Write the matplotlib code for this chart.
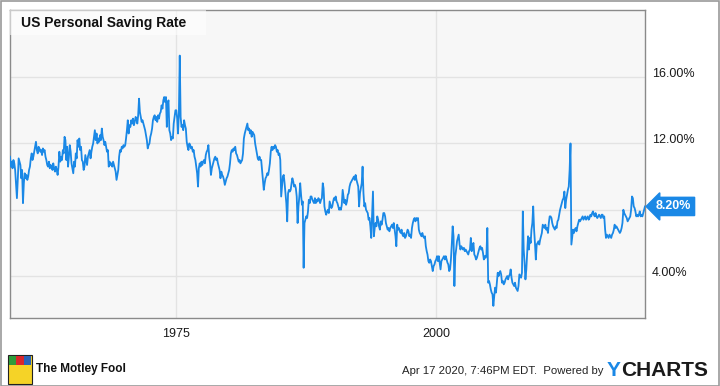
import numpy as np
import pandas as pd
import matplotlib
matplotlib.use("Agg")
import matplotlib.pyplot as plt
import matplotlib.patches as mpatches
import matplotlib.transforms as mtransforms

plt.rcParams['font.family'] = ['Liberation Sans', 'DejaVu Sans']

# Monthly US personal saving rate (%), Jan 1959 - Feb 2020
rate_by_year = {
    1959: [11.2, 10.6, 10.9, 10.5, 11.0, 10.8, 10.4, 9.6, 8.7, 9.8, 11.1, 10.9],
    1960: [10.7, 9.9, 10.4, 8.4, 9.6, 10.2, 9.9, 10.1, 9.8, 10.0, 10.4, 10.6],
    1961: [11.1, 11.4, 11.0, 11.2, 11.5, 11.8, 12.1, 11.6, 11.4, 11.8, 11.7, 11.5],
    1962: [11.6, 11.3, 11.7, 11.5, 11.6, 11.2, 11.0, 10.7, 10.6, 10.9, 10.5, 10.7],
    1963: [10.6, 10.4, 10.8, 10.5, 10.3, 10.6, 10.4, 10.1, 10.6, 11.5, 10.9, 11.2],
    1964: [11.0, 11.6, 11.4, 12.4, 12.2, 11.0, 11.8, 10.6, 11.2, 11.9, 11.5, 10.8],
    1965: [10.5, 10.2, 10.9, 10.6, 11.4, 11.1, 12.2, 11.8, 12.3, 11.6, 11.8, 11.0],
    1966: [10.9, 10.4, 10.6, 11.3, 11.0, 10.7, 11.2, 11.4, 11.6, 11.1, 11.5, 11.8],
    1967: [12.0, 12.4, 12.8, 12.2, 12.6, 12.0, 12.3, 12.1, 12.5, 12.2, 12.9, 12.4],
    1968: [12.2, 11.9, 12.1, 11.8, 11.5, 11.6, 10.6, 10.9, 10.7, 10.8, 10.6, 10.9],
    1969: [10.7, 10.5, 10.3, 9.8, 10.1, 10.4, 11.2, 11.6, 11.5, 11.8, 11.7, 11.9],
    1970: [11.8, 11.9, 12.3, 12.8, 13.4, 12.6, 13.1, 13.0, 13.4, 13.2, 13.5, 13.1],
    1971: [13.3, 13.6, 13.5, 13.2, 13.7, 14.7, 13.9, 13.6, 13.3, 13.4, 13.2, 13.0],
    1972: [12.8, 12.5, 12.2, 11.7, 11.9, 12.0, 12.4, 12.6, 12.9, 13.4, 13.6, 13.7],
    1973: [13.4, 13.6, 13.3, 13.7, 13.5, 13.8, 13.9, 14.3, 14.1, 14.6, 14.8, 14.5],
    1974: [14.8, 13.0, 14.4, 14.6, 12.8, 12.6, 12.2, 12.4, 12.3, 13.2, 13.6, 14.0],
    1975: [14.0, 13.5, 12.6, 13.8, 17.3, 13.6, 13.0, 13.1, 12.8, 13.4, 13.1, 12.9],
    1976: [12.1, 11.8, 11.6, 12.0, 11.9, 11.7, 11.8, 11.5, 11.6, 11.2, 11.0, 10.6],
    1977: [10.2, 9.4, 10.5, 10.8, 10.6, 10.9, 10.7, 10.9, 11.0, 10.8, 11.3, 11.5],
    1978: [11.6, 11.9, 11.2, 10.8, 10.1, 10.5, 10.7, 10.9, 11.1, 11.2, 11.0, 11.1],
    1979: [10.8, 10.6, 10.4, 9.9, 10.3, 10.1, 10.0, 9.8, 9.5, 9.7, 9.9, 10.0],
    1980: [10.2, 10.4, 10.8, 11.4, 11.6, 11.5, 11.7, 11.6, 11.8, 11.4, 11.3, 11.1],
    1981: [10.9, 11.0, 10.8, 10.9, 11.0, 11.4, 12.3, 12.6, 12.8, 13.0, 13.2, 12.8],
    1982: [12.9, 12.6, 12.8, 12.4, 12.7, 12.6, 12.5, 12.0, 11.7, 11.4, 11.1, 11.0],
    1983: [11.2, 11.0, 11.0, 10.4, 9.8, 9.2, 9.6, 9.9, 10.0, 10.2, 10.1, 10.4],
    1984: [10.8, 11.5, 11.8, 11.6, 11.8, 11.7, 11.9, 11.8, 11.5, 11.6, 11.3, 11.4],
    1985: [11.0, 8.8, 9.4, 10.0, 10.1, 9.6, 9.0, 8.4, 7.3, 9.0, 9.2, 9.1],
    1986: [9.2, 9.6, 9.9, 9.7, 9.4, 9.5, 9.3, 8.8, 7.2, 8.2, 8.8, 9.6],
    1987: [8.9, 8.3, 8.5, 4.5, 7.2, 7.4, 7.6, 7.5, 7.9, 8.6, 8.4, 8.8],
    1988: [8.8, 8.6, 8.5, 8.4, 8.7, 8.4, 8.6, 8.5, 8.7, 8.6, 8.4, 8.6],
    1989: [8.7, 9.6, 9.3, 8.2, 7.9, 7.7, 7.9, 8.0, 7.8, 8.5, 8.3, 8.1],
    1990: [8.2, 8.5, 8.7, 8.6, 8.8, 8.5, 8.4, 8.2, 8.0, 8.1, 8.0, 8.3],
    1991: [9.2, 8.8, 8.4, 8.6, 8.3, 8.5, 8.9, 9.0, 9.4, 9.6, 9.7, 9.8],
    1992: [9.9, 10.0, 9.8, 10.1, 9.8, 9.6, 9.4, 8.2, 9.0, 9.3, 9.6, 10.6],
    1993: [9.0, 8.2, 8.4, 8.0, 7.9, 7.8, 7.4, 7.5, 7.0, 6.3, 7.8, 9.1],
    1994: [6.4, 6.9, 7.2, 7.0, 7.6, 7.4, 7.0, 6.8, 7.3, 7.1, 7.4, 7.8],
    1995: [7.8, 7.6, 7.2, 7.0, 6.8, 6.9, 6.7, 6.9, 7.0, 7.1, 6.9, 7.2],
    1996: [6.8, 6.4, 5.8, 7.1, 6.8, 6.9, 6.7, 6.6, 6.8, 6.5, 6.4, 6.6],
    1997: [6.3, 6.4, 6.6, 6.8, 6.7, 6.4, 6.5, 6.3, 6.9, 7.2, 7.4, 7.5],
    1998: [7.3, 7.5, 7.4, 7.5, 6.8, 6.6, 6.5, 6.4, 6.6, 6.4, 6.3, 6.4],
    1999: [5.8, 5.5, 5.3, 4.9, 4.8, 5.0, 4.9, 4.6, 4.3, 4.6, 4.7, 4.9],
    2000: [5.0, 5.2, 4.9, 5.2, 4.8, 4.4, 4.9, 5.0, 5.1, 5.2, 5.0, 5.2],
    2001: [5.0, 4.8, 4.7, 4.3, 4.4, 5.0, 5.9, 7.0, 6.4, 3.4, 5.2, 5.6],
    2002: [6.1, 6.3, 6.5, 5.9, 5.6, 5.8, 5.7, 5.6, 5.7, 5.5, 5.6, 5.5],
    2003: [5.4, 5.3, 5.5, 5.6, 6.3, 5.5, 5.8, 6.0, 5.3, 5.2, 5.0, 5.1],
    2004: [5.3, 5.5, 5.7, 5.8, 5.6, 5.7, 5.4, 5.0, 5.2, 5.1, 5.3, 6.9],
    2005: [3.6, 3.7, 3.5, 3.2, 3.0, 2.9, 2.2, 2.8, 3.3, 3.0, 3.6, 4.2],
    2006: [4.0, 4.2, 4.3, 4.1, 3.6, 3.7, 3.5, 3.6, 3.8, 3.9, 4.0, 3.8],
    2007: [4.0, 4.1, 4.4, 3.9, 3.6, 3.5, 3.4, 3.6, 3.3, 3.2, 3.1, 3.4],
    2008: [4.1, 4.0, 3.9, 4.2, 7.9, 5.6, 4.8, 3.8, 4.4, 5.4, 6.4, 5.6],
    2009: [6.3, 6.0, 6.8, 7.2, 8.2, 6.8, 6.0, 5.0, 5.9, 6.0, 6.1, 5.9],
    2010: [6.2, 6.4, 6.6, 7.1, 7.0, 6.9, 7.1, 6.8, 6.9, 6.6, 7.2, 7.6],
    2011: [7.6, 7.5, 7.2, 7.0, 6.9, 6.8, 7.0, 6.9, 7.3, 7.4, 7.7, 8.0],
    2012: [8.2, 8.4, 8.6, 8.7, 9.1, 8.1, 8.6, 8.9, 9.2, 9.4, 10.4, 12.0],
    2013: [5.9, 6.4, 6.8, 6.6, 6.8, 6.9, 6.7, 7.0, 7.2, 7.4, 7.3, 7.4],
    2014: [7.5, 7.6, 7.4, 7.5, 7.6, 7.4, 7.5, 7.6, 7.4, 7.5, 7.7, 7.6],
    2015: [7.8, 7.9, 7.7, 7.6, 7.8, 7.6, 7.5, 7.6, 7.7, 7.6, 7.5, 7.7],
    2016: [7.7, 7.5, 7.6, 6.8, 6.3, 6.5, 6.4, 6.3, 6.5, 6.4, 6.3, 6.5],
    2017: [6.6, 6.8, 7.1, 6.9, 7.0, 6.9, 6.8, 6.7, 6.6, 6.7, 6.9, 7.2],
    2018: [8.0, 7.8, 7.7, 7.6, 7.5, 7.3, 7.4, 7.5, 7.6, 8.0, 8.8, 8.7],
    2019: [8.2, 8.1, 7.9, 7.6, 7.7, 7.6, 7.7, 7.9, 7.6, 7.7, 7.6, 7.8],
    2020: [8.0, 8.2],
}
rates = [v for yr in sorted(rate_by_year) for v in rate_by_year[yr]]
dates = pd.date_range("1959-01-01", periods=len(rates), freq="MS")

y_ticks = [4, 8, 12, 16]
y_tick_labels = ["4.00%", "", "12.00%", "16.00%"]
x_tick_years = [1975, 2000]
title = "US Personal Saving Rate"
last_label = "8.20%"

LINE = "#1a88e6"
W, H = 720, 386
fig = plt.figure(figsize=(W / 100, H / 100), dpi=100)
fig.patch.set_facecolor("white")

# outer border
fig.add_artist(mpatches.Rectangle((0.5 / W, 0.5 / H), (W - 1.5) / W, (H - 1.5) / H,
                                  transform=fig.transFigure, fill=False,
                                  edgecolor="#9a9a9a", linewidth=1.2))

L, R, T, B = 10, 645, 10, 318
ax = fig.add_axes([L / W, 1 - B / H, (R - L) / W, (B - T) / H])
ax.set_facecolor("#f7f7f7")
ax.plot(dates, rates, color=LINE, linewidth=1.3, solid_joinstyle="round", zorder=3)

ax.set_xlim(pd.Timestamp("1959-01-01"), pd.Timestamp("2020-02-01"))
ax.set_ylim(1.47, 20.05)

ax.set_xticks([pd.Timestamp(f"{y}-01-01") for y in x_tick_years])
ax.set_xticklabels([str(y) for y in x_tick_years])
ax.set_yticks(y_ticks)
ax.set_yticklabels(y_tick_labels)
ax.yaxis.tick_right()
ax.tick_params(axis="both", length=0, labelsize=9, labelcolor="#1a1a1a")
ax.tick_params(axis="y", pad=5)
ax.tick_params(axis="x", pad=7)
off = mtransforms.ScaledTranslation(0, 5 / 100, fig.dpi_scale_trans)
for lab in ax.get_yticklabels():
    lab.set_transform(lab.get_transform() + off)

ax.grid(True, color="#e3e3e3", linewidth=1)
ax.set_axisbelow(True)
for s in ax.spines.values():
    s.set_color("#8a8a8a")
    s.set_linewidth(1)

# title box
ax.add_patch(mpatches.Rectangle((0, 1 - 25 / (B - T)), 196 / (R - L), 25 / (B - T),
                                transform=ax.transAxes, facecolor="white", alpha=0.55,
                                edgecolor="none", zorder=4))
ax.text(11 / (R - L), 1 - 13 / (B - T), title, transform=ax.transAxes,
        ha="left", va="center", fontsize=10, fontweight="bold", color="#111111", zorder=5)

# last value tag
ax.annotate(last_label, xy=(1, rates[-1]), xycoords=("axes fraction", "data"),
            xytext=(8, 0), textcoords="offset points", ha="left", va="center",
            fontsize=9, fontweight="bold", color="white", annotation_clip=False,
            bbox=dict(boxstyle="larrow,pad=0.25", facecolor=LINE, edgecolor=LINE),
            zorder=6)

# footer
fig.text(603 / W, 1 - 371 / H, "Apr 17 2020, 7:46PM EDT.  Powered by",
         ha="right", va="center", fontsize=8.2, color="#222222")
fig.text(607 / W, 1 - 370 / H, "Y", ha="left", va="center", fontsize=15,
         fontweight="bold", color=LINE)
fig.text(621 / W, 1 - 370 / H, "CHARTS", ha="left", va="center", fontsize=15,
         fontweight="bold", color="#1a1a1a")

# Motley Fool mark
fig.add_artist(mpatches.Rectangle((8 / W, 1 - 384 / H), 24 / W, 29 / H,
                                  transform=fig.transFigure, facecolor="#f5d327",
                                  edgecolor="#222222", linewidth=0.8))
fig.add_artist(mpatches.Rectangle((9 / W, 1 - 365 / H), 7 / W, 9 / H,
                                  transform=fig.transFigure, facecolor="#2e9b3a", edgecolor="none"))
fig.add_artist(mpatches.Rectangle((16 / W, 1 - 365 / H), 8 / W, 9 / H,
                                  transform=fig.transFigure, facecolor="#d9262c", edgecolor="none"))
fig.add_artist(mpatches.Rectangle((24 / W, 1 - 365 / H), 7 / W, 9 / H,
                                  transform=fig.transFigure, facecolor="#2a63b8", edgecolor="none"))
fig.text(36 / W, 1 - 369 / H, "The Motley Fool", ha="left", va="center",
         fontsize=8.5, fontweight="bold", color="#111111")

fig.savefig("out.png", dpi=100, facecolor="white")
